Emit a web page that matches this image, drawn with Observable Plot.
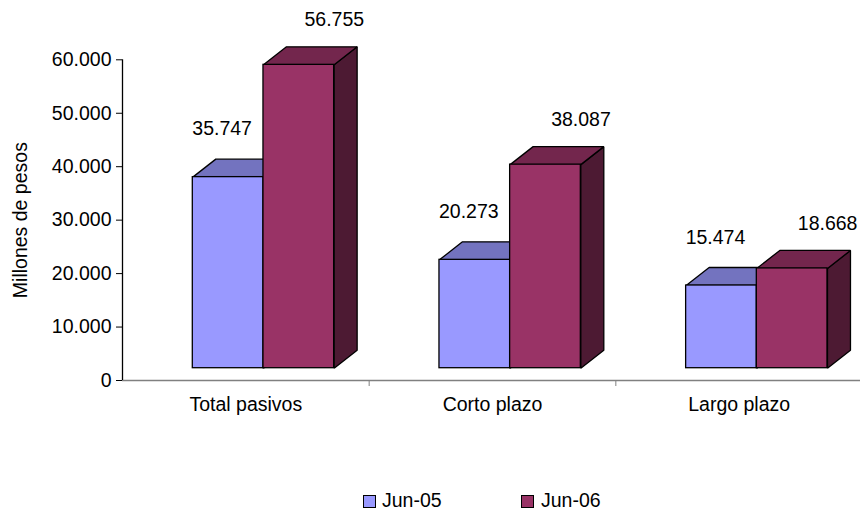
<!DOCTYPE html>
<html><head><meta charset="utf-8">
<script src="https://cdn.jsdelivr.net/npm/d3@7"></script>
<script src="https://cdn.jsdelivr.net/npm/@observablehq/plot@0.6"></script>
<style>
body{margin:0;background:#fff;font-family:"Liberation Sans",Arial,sans-serif;}
#wrap{position:relative;width:860px;height:510px;overflow:hidden;}
#wrap svg{display:block;}
.lg{position:absolute;font-size:19.5px;line-height:20px;color:#000;white-space:nowrap;}
.sw{position:absolute;width:11px;height:11px;border:1px solid #000;}
</style></head><body><div id="wrap"></div>
<script>
// ---- data ----
const categories = ["Total pasivos", "Corto plazo", "Largo plazo"];
const seriesNames = ["Jun-05", "Jun-06"];
const jun05 = [35747, 20273, 15474];
const jun06 = [56755, 38087, 18668];
const yTicks = [0, 10000, 20000, 30000, 40000, 50000, 60000];
const yTitle = "Millones de pesos";

// ---- styling ----
const frontColors = ["#9999FF", "#993366"];
const topColors = ["#7373BF", "#73264D"];
const sideColors = ["#4D4D80", "#4D1A33"];

const fmt = d => d3.format(",")(d).replace(/,/g, ".");

const W = 860, H = 470, mL = 122, mT = 59.3, mB = 90;
const xRange = [122, 862];
const pxPerX = (xRange[1] - xRange[0]) / 3;
const pxPerY = (H - mB - mT) / 60000;
const depthX = 23 / pxPerX;      // 3D depth, horizontal
const depthY = 18 / pxPerY;      // 3D depth, vertical
const baseDy = -12.3;            // front face floor offset (px)
const barW = 0.2865;
const barOff = [0.285, 0.5715];
const lblDx = [-6, 35.5];
const lblDy = [-60.4, -57];

const values = [jun05, jun06];
const rows = values.map((arr, s) => arr.map((v, i) => {
  const x1 = i + barOff[s];
  return {i, s, v, x1, x2: x1 + barW, cat: categories[i], series: seriesNames[s]};
}));
const topPts = rows.map(rs => rs.flatMap(d => [
  {k: d.i, x: d.x1, y: d.v},
  {k: d.i, x: d.x2, y: d.v},
  {k: d.i, x: d.x2 + depthX, y: d.v + depthY},
  {k: d.i, x: d.x1 + depthX, y: d.v + depthY},
  {k: d.i, x: d.x1, y: d.v}
]));
const sidePts = rows.map(rs => rs.flatMap(d => [
  {k: d.i, x: d.x2, y: 0},
  {k: d.i, x: d.x2, y: d.v},
  {k: d.i, x: d.x2 + depthX, y: d.v + depthY},
  {k: d.i, x: d.x2 + depthX, y: depthY},
  {k: d.i, x: d.x2, y: 0}
]));

const edge = {stroke: "#000", strokeWidth: 1.3, strokeLinejoin: "miter", strokeLinecap: "butt"};

const barMarks = [0, 1].flatMap(s => [
  Plot.line(sidePts[s], {x: "x", y: "y", z: "k", fill: sideColors[s], ...edge, dy: baseDy}),
  Plot.line(topPts[s], {x: "x", y: "y", z: "k", fill: topColors[s], ...edge, dy: baseDy}),
  Plot.rect(rows[s], {x1: "x1", x2: "x2", y1: 0, y2: "v", fill: frontColors[s], ...edge, dy: baseDy})
]);
const labelMarks = [0, 1].map(s =>
  Plot.text(rows[s], {x: d => d.x1 + barW / 2, y: "v", text: d => fmt(d.v), dx: lblDx[s], dy: lblDy[s], fill: "#000"})
);

const chart = Plot.plot({
  width: W, height: H,
  marginLeft: mL, marginRight: 0, marginTop: mT, marginBottom: mB,
  style: {fontSize: "19.5px", fontFamily: "'Liberation Sans', Arial, sans-serif", background: "white", color: "black", overflow: "visible"},
  x: {domain: [0, 3], range: xRange},
  y: {domain: [0, 60000]},
  marks: [
    Plot.ruleY([0], {stroke: "#808080", strokeWidth: 1.3}),
    Plot.axisX({ticks: [1, 2], tickSize: 6, tickFormat: () => "", stroke: "#808080", label: null}),
    Plot.axisX({ticks: [0.5, 1.5, 2.5], tickSize: 0, tickPadding: 16.5, tickFormat: d => categories[Math.floor(d)], label: null}),
    Plot.axisY({ticks: yTicks, tickFormat: fmt, tickSize: 6, tickPadding: 5, label: null}),
    Plot.ruleX([0], {y1: 0, y2: 60000, stroke: "#000", strokeWidth: 1.3}),
    Plot.text([yTitle], {text: d => d, frameAnchor: "left", textAnchor: "middle", lineAnchor: "middle", rotate: -90, dx: -101.5, fill: "#000"}),
    ...barMarks,
    ...labelMarks
  ]
});

const wrap = document.getElementById("wrap");
wrap.appendChild(chart);

// legend
const legendItems = [
  {name: seriesNames[0], color: frontColors[0], box: 363, text: 382},
  {name: seriesNames[1], color: frontColors[1], box: 521, text: 541}
];
legendItems.forEach(it => {
  const sw = document.createElement("div");
  sw.className = "sw";
  sw.style.left = it.box + "px";
  sw.style.top = "495px";
  sw.style.background = it.color;
  wrap.appendChild(sw);
  const t = document.createElement("div");
  t.className = "lg";
  t.style.left = it.text + "px";
  t.style.top = "490.3px";
  t.textContent = it.name;
  wrap.appendChild(t);
});
</script>
</body></html>
